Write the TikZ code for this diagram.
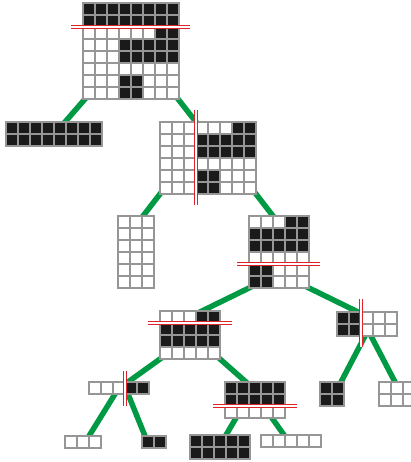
\documentclass[tikz,border=0pt]{standalone}
\usepackage{xcolor}
\usepackage{tikz}
\usetikzlibrary{backgrounds}
\definecolor{cellblack}{RGB}{26,26,26}
\definecolor{gridgray}{RGB}{150,150,150}
\definecolor{treegreen}{RGB}{0,154,68}
\definecolor{cutred}{RGB}{222,35,45}
\tikzset{
    gridbox/.style 2 args={rectangle, draw=gridgray, inner sep=0pt, outer sep=0pt, anchor=north west, minimum width=#1*12pt, minimum height=#2*12pt},
    cell/.style={draw=gridgray, line width=1.2pt},
    branch/.style={draw=treegreen, line width=5.5pt, shorten <=-3pt, shorten >=-4pt},
    cutline/.style={draw=cutred, line width=3.1pt, postaction={draw=white, line width=1.1pt}}
}
% one grid of bits, row by row, from the node's top left corner
\newcommand{\bitgrid}[2]{%
    \foreach \rowbits [count=\rowi from 0] in {#2} {
        \foreach \bit [count=\coli from 0] in \rowbits {
            \ifnum\bit=1 \def\cellcol{cellblack}\else\def\cellcol{white}\fi
            \draw[cell, fill=\cellcol] ([shift={(\coli*12,\rowi*12)}]#1.north west) rectangle ++(12,12);
        }
    }%
}
\begin{document}
\begin{tikzpicture}[x=1pt, y=-1pt]
    \useasboundingbox (0,0) rectangle (411,462);

    % Grid nodes
    \node[gridbox={8}{8}] (root) at (83,3) {};
    \node[gridbox={8}{2}] (L) at (6,122) {};
    \node[gridbox={8}{6}] (R) at (160,122) {};
    \node[gridbox={3}{6}] (RL) at (118,216) {};
    \node[gridbox={5}{6}] (RR) at (249,216) {};
    \node[gridbox={5}{4}] (RRL) at (160,311) {};
    \node[gridbox={5}{2}] (RRR) at (337,312) {};
    \node[gridbox={5}{1}] (RRLL) at (89,382) {};
    \node[gridbox={5}{3}] (RRLR) at (225,382) {};
    \node[gridbox={2}{2}] (RRRL) at (320,382) {};
    \node[gridbox={3}{2}] (RRRR) at (379,382) {};
    \node[gridbox={3}{1}] (RRLLL) at (65,436) {};
    \node[gridbox={2}{1}] (RRLLR) at (142,436) {};
    \node[gridbox={5}{2}] (RRLRL) at (190,435) {};
    \node[gridbox={5}{1}] (RRLRR) at (261,435) {};

    % Branches
    \begin{scope}[on background layer]
        \draw[branch] ([xshift=2pt]root.south west) -- ([xshift=59pt]L.north west);
        \draw[branch] ([xshift=-1pt]root.south east) -- ([xshift=36pt]R.north west);
        \draw[branch] (R.south west) -- ([xshift=25pt]RL.north west);
        \draw[branch] (R.south east) -- ([xshift=24pt]RR.north west);
        \draw[branch] (RR.south west) -- ([xshift=42pt]RRL.north west);
        \draw[branch] (RR.south east) -- ([xshift=21pt]RRR.north west);
        \draw[branch] (RRL.south west) -- ([xshift=39pt]RRLL.north west);
        \draw[branch] (RRL.south east) -- ([xshift=21pt]RRLR.north west);
        \draw[branch] ([xshift=26pt]RRLL.south west) -- ([xshift=24pt]RRLLL.north west);
        \draw[branch] ([xshift=39pt]RRLL.south west) -- ([xshift=3pt]RRLLR.north west);
        \draw[branch] ([xshift=28pt]RRR.south west) -- ([xshift=21pt]RRRL.north west);
        \draw[branch] ([xshift=34pt]RRR.south west) -- ([xshift=16pt]RRRR.north west);
        \draw[branch] ([xshift=11pt]RRLR.south west) -- ([xshift=36pt]RRLRL.north west);
        \draw[branch] ([xshift=47pt]RRLR.south west) -- ([xshift=23pt]RRLRR.north west);
    \end{scope}

    % Cells
    \bitgrid{root}{{1,1,1,1,1,1,1,1},{1,1,1,1,1,1,1,1},{0,0,0,0,0,0,1,1},{0,0,0,1,1,1,1,1},{0,0,0,1,1,1,1,1},{0,0,0,0,0,0,0,0},{0,0,0,1,1,0,0,0},{0,0,0,1,1,0,0,0}}
    \bitgrid{L}{{1,1,1,1,1,1,1,1},{1,1,1,1,1,1,1,1}}
    \bitgrid{R}{{0,0,0,0,0,0,1,1},{0,0,0,1,1,1,1,1},{0,0,0,1,1,1,1,1},{0,0,0,0,0,0,0,0},{0,0,0,1,1,0,0,0},{0,0,0,1,1,0,0,0}}
    \bitgrid{RL}{{0,0,0},{0,0,0},{0,0,0},{0,0,0},{0,0,0},{0,0,0}}
    \bitgrid{RR}{{0,0,0,1,1},{1,1,1,1,1},{1,1,1,1,1},{0,0,0,0,0},{1,1,0,0,0},{1,1,0,0,0}}
    \bitgrid{RRL}{{0,0,0,1,1},{1,1,1,1,1},{1,1,1,1,1},{0,0,0,0,0}}
    \bitgrid{RRR}{{1,1,0,0,0},{1,1,0,0,0}}
    \bitgrid{RRLL}{{0,0,0,1,1}}
    \bitgrid{RRLR}{{1,1,1,1,1},{1,1,1,1,1},{0,0,0,0,0}}
    \bitgrid{RRRL}{{1,1},{1,1}}
    \bitgrid{RRRR}{{0,0,0},{0,0,0}}
    \bitgrid{RRLLL}{{0,0,0}}
    \bitgrid{RRLLR}{{1,1}}
    \bitgrid{RRLRL}{{1,1,1,1,1},{1,1,1,1,1}}
    \bitgrid{RRLRR}{{0,0,0,0,0}}

    % Split lines
    \draw[cutline] ([shift={(-12,24)}]root.north west) -- +(119,0);
    \draw[cutline] ([shift={(36,-12)}]R.north west) -- +(0,95);
    \draw[cutline] ([shift={(-12,48)}]RR.north west) -- +(83,0);
    \draw[cutline] ([shift={(-12,12)}]RRL.north west) -- +(84,0);
    \draw[cutline] ([shift={(24,-13)}]RRR.north west) -- +(0,48);
    \draw[cutline] ([shift={(36,-11)}]RRLL.north west) -- +(0,35);
    \draw[cutline] ([shift={(-12,24)}]RRLR.north west) -- +(84,0);
\end{tikzpicture}
\end{document}
